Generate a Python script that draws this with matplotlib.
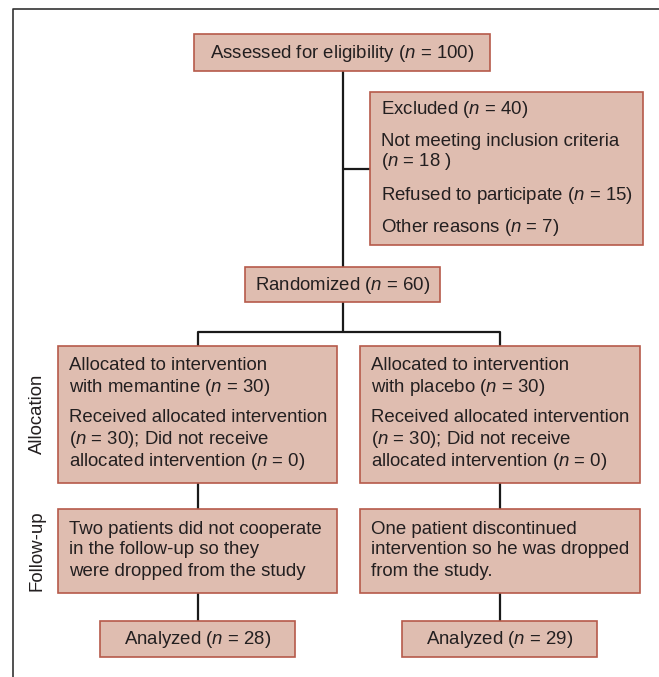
import matplotlib
matplotlib.use("Agg")
import matplotlib.pyplot as plt
from matplotlib.patches import Rectangle

plt.rcParams['font.family'] = ['Liberation Sans', 'DejaVu Sans']
plt.rcParams['mathtext.fontset'] = 'custom'
plt.rcParams['mathtext.it'] = 'Liberation Sans:italic'
plt.rcParams['mathtext.rm'] = 'Liberation Sans'

# ---- data ----
assessed_n = 100
excluded_n = 40
exclusion_reasons = ["Not meeting inclusion criteria", "Refused to participate", "Other reasons"]
exclusion_counts = [18, 15, 7]
randomized_n = 60
arm_names = ["memantine", "placebo"]
allocated_counts = [30, 30]
received_counts = [30, 30]
not_received_counts = [0, 0]
followup_texts = [
    ["Two patients did not cooperate", "in the follow-up so they", "were dropped from the study"],
    ["One patient discontinued", "intervention so he was dropped", "from the study."],
]
analyzed_counts = [28, 29]
stage_labels = ["Allocation", "Follow-up"]

FILL = "#DFBDB0"
EDGE = "#B65A4A"
TXT = "#231F20"
FS = 13.4

fig = plt.figure(figsize=(6.59, 6.77), dpi=100)
ax = fig.add_axes([0, 0, 1, 1])
ax.set_xlim(0, 659)
ax.set_ylim(677, 0)
ax.axis('off')

def nstr(v):
    return "($n$ = %d)" % v

def box(x0, y0, x1, y1):
    ax.add_patch(Rectangle((x0, y0), x1 - x0, y1 - y0, facecolor=FILL,
                           edgecolor=EDGE, linewidth=1.2, zorder=2))

def line(xs, ys, lw=1.6, color="#1a1a1a"):
    ax.plot(xs, ys, color=color, linewidth=lw, zorder=1, solid_capstyle='butt')

def lines_text(x, ys, texts, ha='left'):
    for y, t in zip(ys, texts):
        ax.text(x, y, t, ha=ha, va='center', fontsize=FS, color=TXT, zorder=3)

# outer frame (left & top)
line([12.5, 12.5, 659], [677, 9, 9], lw=1.2, color="#333333")

# connectors
line([343, 343], [71, 267])
line([343, 370], [169, 169])
line([343, 343], [302, 332])
line([198, 198, 500, 500], [346, 332, 332, 346])
for cx in (198, 500):
    line([cx, cx], [483, 509])
    line([cx, cx], [593, 621])

# top box
box(194, 34, 490, 71)
lines_text(342, [53], ["Assessed for eligibility " + nstr(assessed_n)], ha='center')

# excluded box
box(370, 92, 643, 245)
exc_lines = ["Excluded " + nstr(excluded_n),
             exclusion_reasons[0], nstr(exclusion_counts[0])[:-1] + " )",
             exclusion_reasons[1] + " " + nstr(exclusion_counts[1]),
             exclusion_reasons[2] + " " + nstr(exclusion_counts[2])]
lines_text(381, [109, 141, 162, 195, 227], exc_lines)

# randomized
box(245, 267, 440, 302)
lines_text(342.5, [285], ["Randomized " + nstr(randomized_n)], ha='center')

# allocation boxes
for i, (x0, x1) in enumerate([(58, 337), (360, 640)]):
    box(x0, 346, x1, 483)
    t = ["Allocated to intervention",
         "with %s %s" % (arm_names[i], nstr(allocated_counts[i])),
         "Received allocated intervention",
         "%s; Did not receive" % nstr(received_counts[i]),
         "allocated intervention %s" % nstr(not_received_counts[i])]
    lines_text(x0 + 11, [365, 387, 418, 440, 462], t)

# follow-up boxes
for i, (x0, x1) in enumerate([(58, 337), (360, 640)]):
    box(x0, 509, x1, 593)
    lines_text(x0 + 11, [529, 550, 572], followup_texts[i])

# analyzed boxes
for i, (x0, x1) in enumerate([(100, 295), (402, 597)]):
    box(x0, 621, x1, 657)
    lines_text((x0 + x1) / 2, [639], ["Analyzed " + nstr(analyzed_counts[i])], ha='center')

# stage labels
ax.text(37, 414, stage_labels[0], rotation=90, ha='center', va='center', fontsize=FS, color=TXT)
ax.text(37, 551, stage_labels[1], rotation=90, ha='center', va='center', fontsize=FS, color=TXT)

fig.savefig("out.png", dpi=100)
